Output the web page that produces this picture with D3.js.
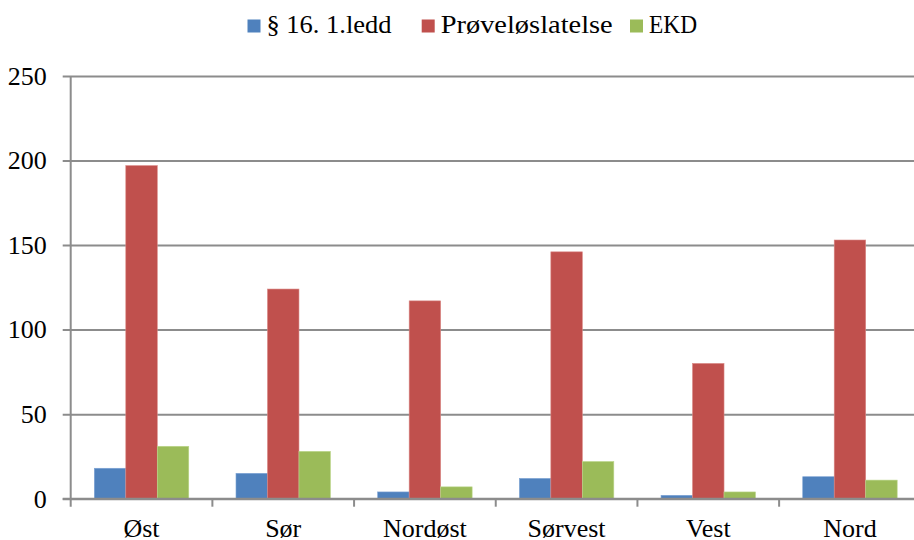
<!DOCTYPE html>
<html>
<head>
<meta charset="utf-8">
<script src="https://cdn.jsdelivr.net/npm/d3@7"></script>
<style>
  html, body { margin: 0; padding: 0; background: #fff; }
  svg { display: block; }
</style>
</head>
<body>
<svg id="chart" width="914" height="540"></svg>
<script>
// Regions and the three series counted per region
const categories = ["Øst", "Sør", "Nordøst", "Sørvest", "Vest", "Nord"];
const seriesNames = ["§ 16. 1.ledd", "Prøveløslatelse", "EKD"];
const paragraf16 = [18, 15, 4, 12, 2, 13];
const proveloslatelse = [197, 124, 117, 146, 80, 153];
const ekd = [31, 28, 7, 22, 4, 11];
const yTicks = [0, 50, 100, 150, 200, 250];

const seriesValues = [paragraf16, proveloslatelse, ekd];
const colors = ["#4F81BD", "#C0504D", "#9BBB59"];
const strokes = ["#7ea3d4", "#d98885", "#bcd68b"];
const FONT = "'Liberation Serif', 'Times New Roman', serif";

const svg = d3.select("#chart");

const plot = { left: 70.7, right: 920.8, top: 76, bottom: 498.7 };

const x0 = d3.scaleBand().domain(categories).range([plot.left, plot.right]);
const x1 = d3.scaleBand().domain(seriesNames).range([0, x0.bandwidth()])
  .paddingInner(0).paddingOuter(0.75);
const y = d3.scaleLinear().domain([0, 250]).range([plot.bottom, plot.top]);

// Horizontal gridlines with left tick marks and labels
const yAxis = d3.axisLeft(y).tickValues(yTicks)
  .tickSize(-(plot.right - plot.left)).tickPadding(24).tickSizeOuter(0);
const gy = svg.append("g").attr("transform", `translate(${plot.left},0)`).call(yAxis);
gy.select(".domain").remove();
gy.selectAll(".tick line").attr("stroke", "#8c8c8c").attr("stroke-width", 2)
  .attr("x1", -8);
gy.selectAll(".tick text")
  .style("font-family", FONT).style("font-size", "26px")
  .attr("fill", "#000").attr("x", -24);

// Vertical axis line
svg.append("line")
  .attr("x1", plot.left).attr("x2", plot.left)
  .attr("y1", plot.top).attr("y2", plot.bottom + 8)
  .attr("stroke", "#8c8c8c").attr("stroke-width", 2);

// Bars
const groups = svg.append("g").selectAll("g")
  .data(categories)
  .join("g")
  .attr("transform", d => `translate(${x0(d)},0)`);

groups.selectAll("rect")
  .data((c, i) => seriesNames.map((s, k) => ({ s, k, v: seriesValues[k][i] })))
  .join("rect")
  .attr("x", d => x1(d.s))
  .attr("width", x1.bandwidth())
  .attr("y", d => y(d.v))
  .attr("height", d => y(0) - y(d.v))
  .attr("fill", d => colors[d.k])
  .attr("stroke", d => strokes[d.k])
  .attr("stroke-width", 0.6);

// Bottom axis with category boundaries
const xAxis = d3.axisBottom(x0).tickSize(0).tickPadding(0);
const gx = svg.append("g").attr("transform", `translate(0,${plot.bottom})`).call(xAxis);
gx.select(".domain").remove();
gx.selectAll(".tick text")
  .style("font-family", FONT).style("font-size", "26px")
  .attr("fill", "#000").attr("y", 38).attr("dy", 0);

svg.append("line")
  .attr("x1", plot.left - 8).attr("x2", plot.right)
  .attr("y1", plot.bottom).attr("y2", plot.bottom)
  .attr("stroke", "#8c8c8c").attr("stroke-width", 2);

svg.append("g").selectAll("line")
  .data(d3.range(1, categories.length + 1))
  .join("line")
  .attr("x1", i => plot.left + x0.step() * i)
  .attr("x2", i => plot.left + x0.step() * i)
  .attr("y1", plot.bottom).attr("y2", plot.bottom + 8)
  .attr("stroke", "#8c8c8c").attr("stroke-width", 2);

// Legend across the top: swatch, then its label
const legendX = [247.5, 421.7, 630];
const legendTextWidth = [125, 172, 48];
const items = svg.append("g").selectAll("g").data(seriesNames).join("g")
  .attr("transform", (d, i) => `translate(${legendX[i]},0)`);
items.append("rect").attr("width", 13).attr("height", 13).attr("y", 19.5)
  .attr("fill", (d, i) => colors[i]);
items.append("text").attr("x", 19).attr("y", 33)
  .style("font-family", FONT).style("font-size", "26px")
  .attr("textLength", (d, i) => legendTextWidth[i])
  .attr("lengthAdjust", "spacingAndGlyphs")
  .attr("fill", "#000").text(d => d);
</script>
</body>
</html>
